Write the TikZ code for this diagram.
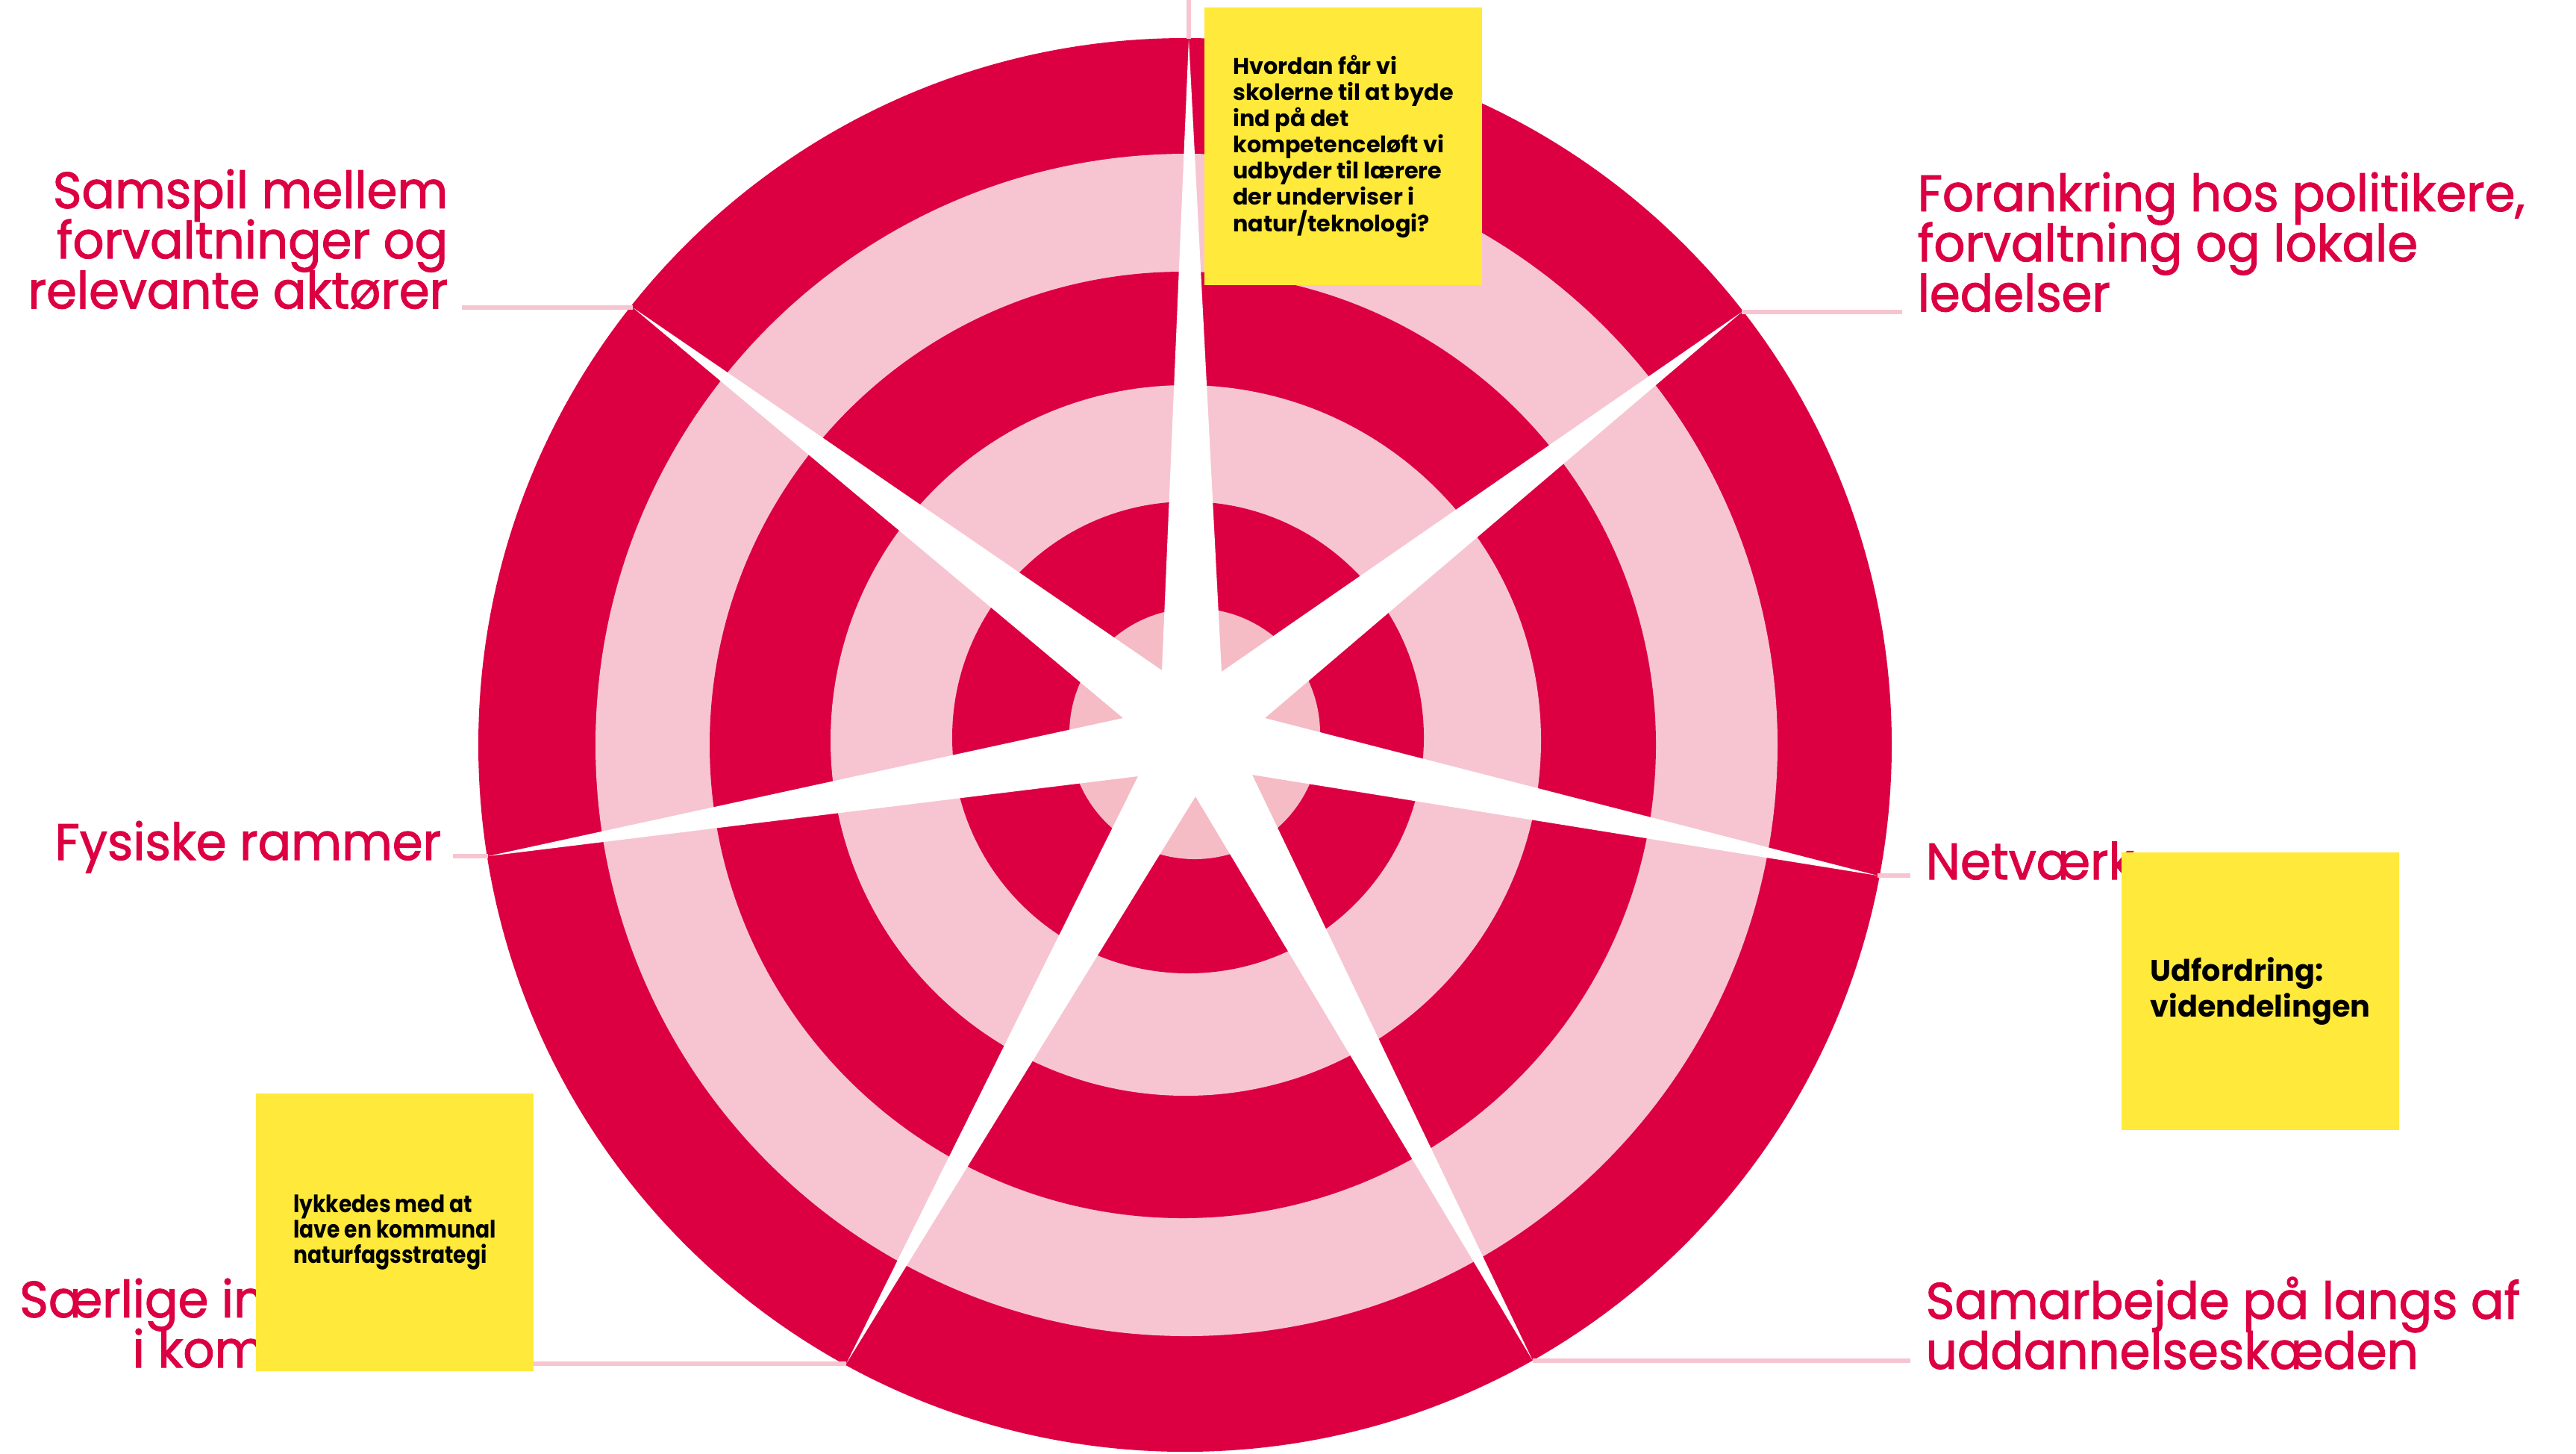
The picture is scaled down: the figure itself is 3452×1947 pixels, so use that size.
\documentclass[tikz,border=0pt]{standalone}
\usepackage{fontspec}
\setmainfont{Poppins}
\newfontfamily\labelfont{Poppins}[FakeStretch=0.96,FakeBold=1.5]
\newfontfamily\narrowfont{Poppins}[FakeStretch=0.88]
\newcommand\lblfont{\labelfont\fontsize{19.5}{19.1}\selectfont\lineskiplimit-30pt\relax}
\usetikzlibrary{positioning}
\usetikzlibrary{calc}

\definecolor{ringred}{RGB}{220,0,67}
\definecolor{ringpink}{RGB}{247,197,209}
\definecolor{corepink}{RGB}{245,188,198}
\definecolor{noteyellow}{RGB}{255,233,59}

\tikzset{
  lbl/.style={text=ringred, inner sep=0pt, font=\lblfont},
  leader/.style={draw=ringpink, line width=1.7pt},
  note/.style={fill=noteyellow, minimum width=3.71cm, minimum height=3.71cm,
    align=left, inner sep=0pt},
}

\begin{document}
\begin{tikzpicture}[x=0.01cm,y=-0.01cm]
	\useasboundingbox (0,0) rectangle (3452,1947);
	\coordinate (c) at (1588,998);
	\fill[ringred] (c) circle[radius=947];
	\fill[ringpink] ($(c)+(2,0)$) circle[radius=792];
	\fill[ringred] ($(c)+(-3,0)$) circle[radius=634];
	\fill[ringpink] ($(c)+(1,-6)$) circle[radius=476];
	\fill[ringred] ($(c)+(4,-10)$) circle[radius=316];
	\fill[corepink] (1601,983) circle[radius=168];
	% labels
	\node[lbl, align=right, anchor=north east] (samspil) at (601,226) {Samspil mellem\\forvaltninger og\\relevante aktører};
	\node[lbl, align=left, anchor=north west] (forankring) at (2569,230) {Forankring hos politikere,\\forvaltning og lokale\\ledelser};
	\node[lbl, anchor=base west] (fysiske) at (73,1152) {Fysiske rammer};
	\node[lbl, anchor=base west] (netvaerk) at (2580,1178) {Netværk};
	\node[lbl, align=right, anchor=north east] (saerlige) at (356,1712) {Særlige in\\i kom};
	\node[lbl, align=left, anchor=north west] (samarbejde) at (2580,1710) {Samarbejde på langs af\\uddannelseskæden};
	% star tips
	\coordinate (tT) at (1593,52);
	\coordinate (tUR) at (2334,418);
	\coordinate (tR) at (2516,1173);
	\coordinate (tLR) at (2054,1823);
	\coordinate (tLL) at (1134,1827);
	\coordinate (tL) at (654,1147);
	\coordinate (tUL) at (848,412);
	\coordinate (topend) at (1593,0);
	% leaders
	\draw[leader] (tT) -- (topend);
	\draw[leader, shorten >=0.18cm] (tUL) -- (tUL -| samspil.east);
	\draw[leader, shorten >=0.2cm] (tUR) -- (tUR -| forankring.west);
	\draw[leader, shorten >=0.15cm] (tL) -- (tL -| fysiske.east);
	\draw[leader, shorten >=0.2cm] (tR) -- (tR -| netvaerk.west);
	\draw[leader, shorten >=0.2cm] (tLR) -- (tLR -| samarbejde.west);
	\draw[leader] (tLL) -- (tLL -| saerlige.east);
	% star
	\fill[white] (tT) -- (1637,900) -- (tUR) -- (1695,962) -- (tR) -- (1678,1038)
	  -- (tLR) -- (1602,1067) -- (tLL) -- (1525,1040) -- (tL) -- (1505,962)
	  -- (tUL) -- (1557,898) -- cycle;
	% notes
	\node[note, font=\fontsize{8.6}{10}\bfseries] (qnote) at (1800,196) {Hvordan får vi\\skolerne til at byde\\ind på det\\kompetenceløft vi\\udbyder til lærere\\der underviser i\\natur/teknologi?};
	\node[note, font=\fontsize{11.3}{13.7}\bfseries] (unote) at (3029,1328) {Udfordring:\\videndelingen};
	\node[note, font=\narrowfont\fontsize{9.1}{9.7}\bfseries\lineskiplimit-20pt] (lnote) at (529,1651) {lykkedes med at\\lave en kommunal\\naturfagsstrategi};
\end{tikzpicture}
\end{document}
